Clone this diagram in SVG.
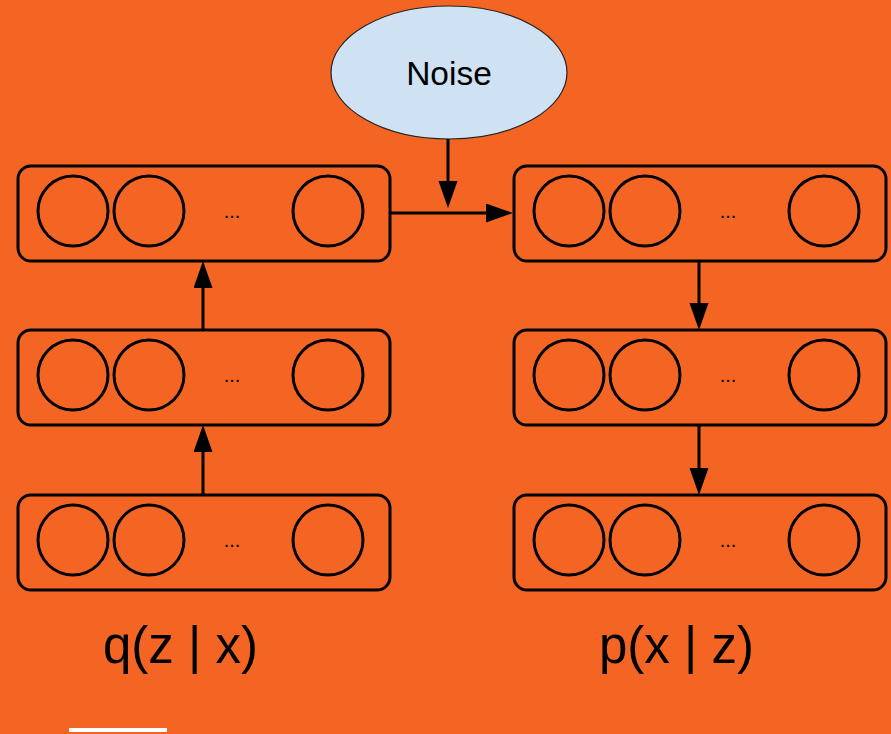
<svg xmlns="http://www.w3.org/2000/svg" width="891" height="734" viewBox="0 0 891 734">
  <style>
    .layer { fill: none; stroke: #000; stroke-width: 3; }
    .unit { fill: none; stroke: #000; stroke-width: 3; }
    .dots { font-family: "Liberation Sans", Arial, sans-serif; font-size: 20px; fill: #000; text-anchor: middle; }
    .edge { fill: none; stroke: #000; stroke-width: 3; marker-end: url(#head); }
    .label { font-family: "Liberation Sans", Arial, sans-serif; font-size: 51px; fill: #000; }
  </style>
  <defs>
    <marker id="head" markerUnits="userSpaceOnUse" markerWidth="28" markerHeight="20" refX="22" refY="9.5" orient="auto">
      <path d="M0,0 L27,9.5 L0,19 z" fill="#000"/>
    </marker>
    <!-- one layer of units: rounded frame, three circles and an ellipsis -->
    <g id="layerShape">
      <rect class="layer" x="18" y="0" width="372" height="95" rx="13" ry="13"/>
      <circle class="unit" cx="73" cy="45" r="35"/>
      <circle class="unit" cx="149" cy="45" r="35"/>
      <circle class="unit" cx="328" cy="45" r="35"/>
      <text class="dots" x="232" y="52">...</text>
    </g>
  </defs>

  <rect x="0" y="0" width="891" height="734" fill="#F46524"/>

  <!-- encoder q(z|x) -->
  <g id="enc-top"><use href="#layerShape" transform="translate(0,166)"/></g>
  <g id="enc-mid"><use href="#layerShape" transform="translate(0,330)"/></g>
  <g id="enc-bottom"><use href="#layerShape" transform="translate(0,495)"/></g>

  <!-- decoder p(x|z) -->
  <g id="dec-top"><use href="#layerShape" transform="translate(496,166)"/></g>
  <g id="dec-mid"><use href="#layerShape" transform="translate(496,330)"/></g>
  <g id="dec-bottom"><use href="#layerShape" transform="translate(496,495)"/></g>

  <!-- noise source -->
  <g id="noise">
    <ellipse cx="449" cy="72.5" rx="118" ry="66.5" fill="#CFE2F3" stroke="#222" stroke-width="1.2"/>
    <text x="449" y="85" font-family="Liberation Sans, Arial, sans-serif" font-size="33.5" text-anchor="middle" fill="#000">Noise</text>
  </g>

  <g id="connectors">
    <path class="edge" d="M203,495 L203,430"/>
    <path class="edge" d="M203,330 L203,266"/>
    <path class="edge" d="M448,139 L448,203"/>
    <path class="edge" d="M390,213 L508,213"/>
    <path class="edge" d="M699,261 L699,325"/>
    <path class="edge" d="M699,425 L699,490"/>
  </g>

  <g id="labels">
    <text class="label" x="103" y="663">q(z | x)</text>
    <text class="label" x="599" y="663">p(x | z)</text>
  </g>

  <rect x="69" y="728" width="98" height="4" fill="#FFFFFF"/>
</svg>
